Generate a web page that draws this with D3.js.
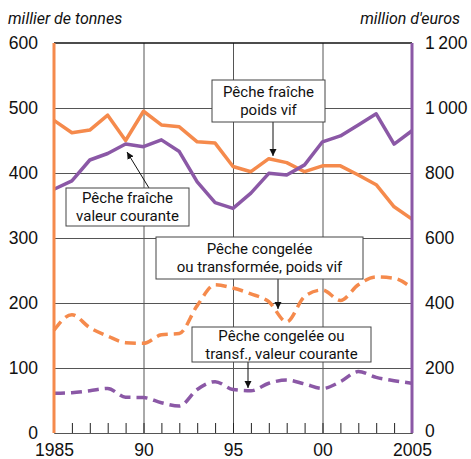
<!DOCTYPE html>
<html>
<head>
<meta charset="utf-8">
<script src="https://cdn.jsdelivr.net/npm/d3@7"></script>
<style>
  body { margin: 0; background: #fff; }
  svg { font-family: Roboto, "Liberation Sans", sans-serif; }
</style>
</head>
<body>
<div id="app"></div>
<script>
// data, 1985..2005
const years = d3.range(1985, 2006)
const freshTonnes = [481, 462, 466, 489, 450, 495, 474, 471, 448, 446, 410, 402, 422, 416, 402, 411, 411, 397, 382, 348, 329]
const freshValue = [750, 776, 840, 860, 889, 881, 902, 866, 773, 709, 691, 738, 799, 794, 825, 896, 914, 948, 982, 889, 930]
const frozenTonnes = [158, 182, 162, 149, 139, 138, 151, 153, 196, 228, 223, 214, 202, 171, 210, 220, 204, 228, 240, 238, 223]
const frozenValue = [122, 124, 130, 137, 110, 109, 93, 83, 134, 158, 134, 130, 153, 163, 151, 137, 158, 189, 171, 161, 153]

const leftTicks = [0, 100, 200, 300, 400, 500, 600]
const rightTicks = [0, 200, 400, 600, 800, 1000, 1200]
const yearTicks = [1985, 1990, 1995, 2000, 2005]

const orange = "#f58a4c",
  purple = "#8b58a6",
  grid = "#555"

const width = 471,
  height = 459,
  mLeft = 54,
  mRight = 412,
  mTop = 43,
  mBottom = 433

const svg = d3.select("#app")
  .append("svg")
  .attr("width", width)
  .attr("height", height)

const x = d3.scaleLinear().domain([1985, 2005]).range([mLeft, mRight])
const yL = d3.scaleLinear().domain([0, 600]).range([mBottom, mTop])
const yR = d3.scaleLinear().domain([0, 1200]).range([mBottom, mTop])

// grid
svg.append("g")
  .attr("transform", `translate(${mLeft},0)`)
  .call(d3.axisLeft(yL).tickValues([100, 200, 300, 400, 500]).tickSize(-(mRight - mLeft)).tickFormat(""))
  .call(g => g.select(".domain").remove())
  .call(g => g.selectAll("line").attr("stroke", grid).attr("stroke-width", 1))

svg.append("g")
  .attr("transform", `translate(0,${mBottom})`)
  .call(d3.axisBottom(x).tickValues([1990, 1995, 2000]).tickSize(-(mBottom - mTop)).tickFormat(""))
  .call(g => g.select(".domain").remove())
  .call(g => g.selectAll("line").attr("stroke", grid).attr("stroke-width", 1))

// minor year ticks
svg.append("g")
  .attr("transform", `translate(0,${mBottom})`)
  .call(d3.axisBottom(x).tickValues(years).tickSize(-10).tickFormat(""))
  .call(g => g.select(".domain").attr("stroke", grid))
  .call(g => g.selectAll("line").attr("stroke", "#222"))

// top frame
svg.append("line")
  .attr("x1", mLeft).attr("x2", mRight)
  .attr("y1", mTop).attr("y2", mTop)
  .attr("stroke", "#111").attr("stroke-width", 1.5)

// axis labels
svg.append("g")
  .attr("transform", `translate(${mLeft},0)`)
  .call(d3.axisLeft(yL).tickValues(leftTicks).tickSize(0).tickPadding(16))
  .call(g => g.select(".domain").remove())
  .call(g => g.selectAll("text").attr("font-size", 17.5).attr("fill", "#111").attr("font-family", null))

const fr = d3.formatLocale({ thousands: "\u2009", grouping: [3], decimal: "," })
svg.append("g")
  .attr("transform", `translate(${mRight},0)`)
  .call(d3.axisRight(yR).tickValues(rightTicks).tickSize(0).tickPadding(13).tickFormat(fr.format(",")))
  .call(g => g.select(".domain").remove())
  .call(g => g.selectAll("text").attr("font-size", 17.5).attr("fill", "#111").attr("font-family", null))
  .call(g => g.selectAll(".tick").filter(d => d == 0).select("text").attr("dy", "0.2em"))

svg.append("g")
  .attr("transform", `translate(0,${mBottom})`)
  .call(d3.axisBottom(x).tickValues(yearTicks).tickSize(0).tickPadding(11)
    .tickFormat(d => (d == 1985 || d == 2005) ? d : String(d).slice(2)))
  .call(g => g.select(".domain").remove())
  .call(g => g.selectAll("text").attr("font-size", 17.5).attr("fill", "#111").attr("font-family", null))

svg.append("text")
  .attr("x", 8).attr("y", 24)
  .attr("font-size", 16).attr("font-style", "italic").attr("fill", "#111")
  .text("millier de tonnes")

svg.append("text")
  .attr("x", 460).attr("y", 24)
  .attr("text-anchor", "end")
  .attr("font-size", 16).attr("font-style", "italic").attr("fill", "#111")
  .text("million d'euros")

// lines
const lineL = d3.line().x((d, i) => x(years[i])).y(d => yL(d))
const lineR = d3.line().x((d, i) => x(years[i])).y(d => yR(d))

svg.append("path").datum(freshTonnes)
  .attr("d", lineL).attr("fill", "none")
  .attr("stroke", orange).attr("stroke-width", 3.5).attr("stroke-linejoin", "round")

svg.append("path").datum(freshValue)
  .attr("d", lineR).attr("fill", "none")
  .attr("stroke", purple).attr("stroke-width", 3.5).attr("stroke-linejoin", "round")

svg.append("path").datum(frozenTonnes)
  .attr("d", lineL.curve(d3.curveMonotoneX)).attr("fill", "none")
  .attr("stroke", orange).attr("stroke-width", 3.5).attr("stroke-dasharray", "11,6")

svg.append("path").datum(frozenValue)
  .attr("d", lineR.curve(d3.curveMonotoneX)).attr("fill", "none")
  .attr("stroke", purple).attr("stroke-width", 3.5).attr("stroke-dasharray", "11,6")

// side axes
svg.append("line")
  .attr("x1", mLeft).attr("x2", mLeft).attr("y1", mTop).attr("y2", mBottom)
  .attr("stroke", orange).attr("stroke-width", 3)
svg.append("line")
  .attr("x1", mRight).attr("x2", mRight).attr("y1", mTop).attr("y2", mBottom)
  .attr("stroke", purple).attr("stroke-width", 3)

// annotations
svg.append("defs").append("marker")
  .attr("id", "head")
  .attr("viewBox", "0 0 10 10")
  .attr("refX", 10).attr("refY", 5)
  .attr("markerWidth", 7).attr("markerHeight", 9)
  .attr("markerUnits", "userSpaceOnUse")
  .attr("orient", "auto")
  .append("path").attr("d", "M0,0L10,5L0,10Z").attr("fill", "#111")

const notes = [
  { lines: ["Pêche fraîche", "poids vif"], box: [212, 80, 113, 42], from: [273, 122], to: [273, 156] },
  { lines: ["Pêche fraîche", "valeur courante"], box: [66, 188, 123, 38], from: [149, 188], to: [127, 152] },
  { lines: ["Pêche congelée", "ou transformée, poids vif"], box: [156, 237, 207, 42], from: [278, 279], to: [278, 309] },
  { lines: ["Pêche congelée ou", "transf., valeur courante"], box: [192, 327, 179, 35], from: [248, 362], to: [248, 388] }
]

const note = svg.selectAll(".note")
  .data(notes)
  .enter()
  .append("g")
  .attr("class", "note")

note.append("line")
  .attr("x1", d => d.from[0]).attr("y1", d => d.from[1])
  .attr("x2", d => d.to[0]).attr("y2", d => d.to[1])
  .attr("stroke", "#111").attr("stroke-width", 1)
  .attr("marker-end", "url(#head)")

note.append("rect")
  .attr("x", d => d.box[0]).attr("y", d => d.box[1])
  .attr("width", d => d.box[2]).attr("height", d => d.box[3])
  .attr("fill", "#fff").attr("stroke", "#444").attr("stroke-width", 1)

note.append("text")
  .attr("text-anchor", "middle")
  .attr("font-size", 15).attr("fill", "#111")
  .selectAll("tspan")
  .data(d => d.lines.map((t, i) => ({ t, i, d })))
  .enter()
  .append("tspan")
  .attr("x", o => o.d.box[0] + o.d.box[2] / 2)
  .attr("y", o => o.d.box[1] + o.d.box[3] / 2 + (o.i - 0.5) * 18 + 5)
  .text(o => o.t)
</script>
</body>
</html>
